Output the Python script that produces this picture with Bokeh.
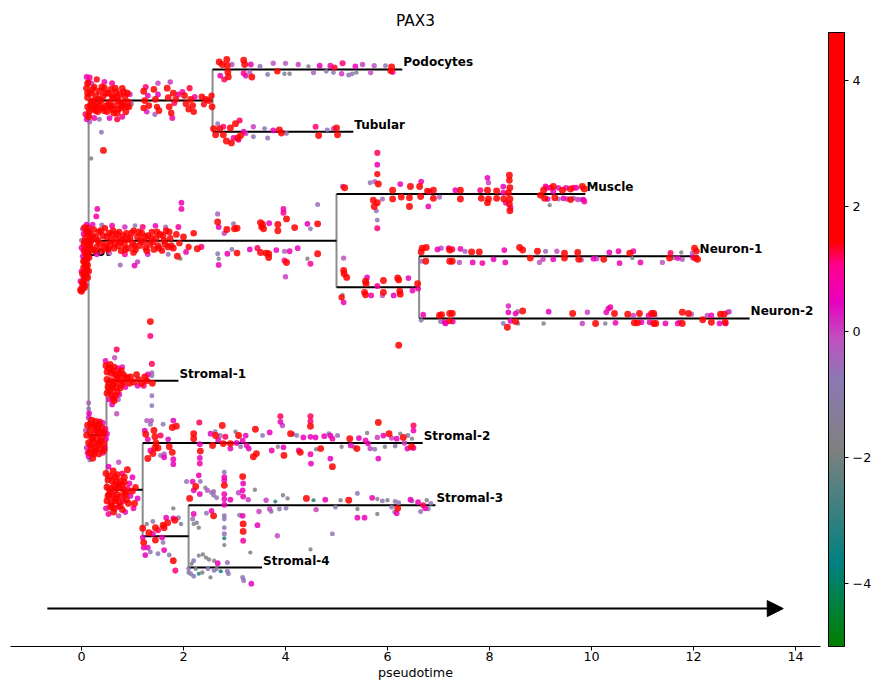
import numpy as np
from bokeh.plotting import figure
from bokeh.models import (ColumnDataSource, LinearColorMapper, ColorBar, FixedTicker,
                          Range1d, Arrow, NormalHead)
from bokeh.core.properties import value
from bokeh.embed import file_html
from bokeh.resources import INLINE

GENE = "PAX3"

# ---- trajectory tree: segment -> parent, and pseudotime where each segment ends
SEG_PARENT = {
    "root": None,
    "top": "root", "podocytes": "top", "tubular": "top",
    "middle": "root", "muscle": "middle", "lowmid": "middle",
    "neuron1": "lowmid", "neuron2": "lowmid",
    "s1234": "root", "stromal1": "s1234", "s234": "s1234",
    "stromal2": "s234", "s34": "s234", "stromal3": "s34", "stromal4": "s34",
}
SEG_END = {
    "root": 0.14,
    "top": 2.57, "podocytes": 6.29, "tubular": 5.33,
    "middle": 5.00, "muscle": 9.88, "lowmid": 6.62,
    "neuron1": 12.10, "neuron2": 13.10,
    "s1234": 0.49, "stromal1": 1.90, "s234": 1.20,
    "stromal2": 6.69, "s34": 2.10, "stromal3": 6.94, "stromal4": 3.54,
}
ROOT_START = 0.0
LEAF_ORDER = ["podocytes", "tubular", "muscle", "neuron1", "neuron2",
              "stromal1", "stromal2", "stromal3", "stromal4"]
LEAF_LABELS = {
    "podocytes": "Podocytes", "tubular": "Tubular", "muscle": "Muscle",
    "neuron1": "Neuron-1", "neuron2": "Neuron-2", "stromal1": "Stromal-1",
    "stromal2": "Stromal-2", "stromal3": "Stromal-3", "stromal4": "Stromal-4",
}
ROOT_LABEL = "root"

# ---- cells: (pseudotime, offset from the segment lane, PAX3 expression)
CELLS_ROOT = [
    (0.10, -0.55, 0.6), (0.14, -0.50, 1.3), (0.02, -0.48, -0.3), (0.12, -0.42, 2.6), (0.04, -0.40, 0.5),
    (0.16, -0.36, 2.2), (0.08, -0.34, 2.9), (0.00, -0.30, -0.6), (0.12, -0.28, 3.1), (0.05, -0.24, 2.4),
    (0.15, -0.22, 2.7), (0.00, -0.18, 0.6), (0.10, -0.16, 3.3), (0.04, -0.12, 1.0), (0.13, -0.10, 2.5),
    (0.08, -0.06, 2.8), (0.02, -0.04, 0.3), (0.15, -0.02, 2.2), (0.10, 0.02, 3.0), (0.06, 0.06, 2.6),
    (0.12, 0.10, 2.4), (0.04, 0.14, 1.9), (0.10, 0.18, 2.8), (0.06, 0.22, 2.3), (0.00, 0.20, 0.6),
    (0.08, 0.26, 2.6), (0.03, 0.30, -0.4), (0.06, 0.34, 2.1), (-0.02, 0.36, 0.8), (0.04, 0.40, 2.5),
    (0.00, 0.44, 0.0), (0.02, 0.48, 2.7), (-0.02, 0.50, 2.2), (0.08, 0.42, 1.1), (0.14, -0.46, -0.5),
    (0.18, -0.30, 1.5),
    (0.06, -0.50, 2.5), (0.10, -0.44, 2.8), (0.06, -0.28, 2.6), (0.10, -0.26, 2.9), (0.06, -0.14, 2.7),
    (0.12, -0.04, 2.6), (0.04, 0.04, 2.8), (0.08, 0.12, 2.5), (0.02, 0.24, 2.7), (0.06, 0.28, 2.9),
    (0.02, 0.38, 2.6), (0.06, 0.46, 2.4), (0.00, 0.52, 2.8), (0.12, 0.30, 2.5), (0.14, 0.20, 2.6),
]
CELLS_TOP = [
    (0.10, -0.20, 2.6), (0.12, -0.05, 3.1), (0.12, 0.10, 2.2), (0.15, 0.18, 1.9), (0.18, -0.12, 3.4),
    (0.20, 0.02, 2.8), (0.22, 0.14, 2.4), (0.25, -0.22, 1.7), (0.28, -0.08, 3.0), (0.30, 0.06, 2.5),
    (0.32, 0.18, 2.1), (0.35, -0.15, 2.9), (0.38, 0.00, 3.6), (0.40, 0.12, 2.3), (0.42, -0.06, 2.7),
    (0.45, -0.20, 2.0), (0.48, 0.08, 3.2), (0.50, 0.18, 1.8), (0.52, -0.12, 2.6), (0.55, 0.02, 3.0),
    (0.58, -0.18, 2.2), (0.60, 0.14, 2.8), (0.62, -0.04, 3.3), (0.65, 0.08, 2.5), (0.68, -0.14, 2.1),
    (0.70, 0.20, 2.4), (0.72, 0.00, 3.1), (0.75, -0.10, 2.7), (0.78, 0.12, 2.0), (0.80, -0.20, 1.9),
    (0.82, 0.04, 2.9), (0.85, -0.06, 2.3), (0.88, 0.10, 2.6), (0.90, -0.12, 2.2), (0.92, 0.02, 1.8),
    (0.12, -0.28, 2.4), (0.14, 0.26, 2.7), (0.22, -0.18, 2.9), (0.26, 0.10, 3.0), (0.33, -0.02, 2.6),
    (0.44, 0.16, 2.8), (0.47, -0.12, 2.5), (0.57, 0.10, 2.9), (0.63, 0.20, 2.2), (0.66, -0.20, 2.7),
    (0.70, -0.06, 2.4), (0.77, 0.04, 2.8), (0.83, -0.14, 2.6), (0.87, 0.18, 2.3), (0.93, 0.10, 2.5),
    (0.18, 0.08, 2.6), (0.24, 0.00, 2.9), (0.36, 0.08, 2.7), (0.53, 0.08, 2.4), (0.60, -0.08, 2.6),
    (0.40, -0.22, 2.3), (0.12, -0.12, 2.8), (0.28, 0.16, 2.5), (0.72, 0.14, 2.9), (0.80, 0.08, 2.7),
    (0.10, -0.38, 0.6), (0.14, -0.30, 1.0), (0.10, 0.30, 0.4), (0.16, 0.34, -0.4), (0.08, 0.22, 1.2),
    (0.25, 0.28, 0.9), (0.45, -0.30, 0.7), (0.60, -0.28, 1.0), (0.80, 0.26, 0.8), (0.55, 0.28, 0.5),
    (0.30, -0.34, 1.4), (0.95, -0.10, 0.2), (0.98, 0.05, -0.5), (0.35, 0.30, -0.6), (0.20, -0.28, 0.0),
    (0.70, 0.30, 1.3), (0.15, 0.24, -0.8), (0.16, -0.37, 1.0), (0.39, 0.51, -0.7), (0.43, 0.80, 2.6),
    (0.19, 0.93, -1.8),
    (1.22, -0.15, 2.4), (1.24, 0.00, 2.9), (1.22, 0.12, 1.9), (1.30, -0.08, 0.6), (1.32, 0.08, 2.2),
    (1.26, -0.22, 1.1), (1.28, 0.18, 0.3),
    (1.42, -0.18, 2.1), (1.45, -0.02, 2.6), (1.48, 0.10, 1.5), (1.50, -0.10, 0.5), (1.52, 0.16, 2.3),
    (1.44, 0.22, -0.3), (1.50, -0.28, 0.0),
    (1.68, -0.20, 2.7), (1.70, -0.05, 2.2), (1.72, 0.10, 3.0), (1.76, 0.20, 1.8), (1.80, -0.12, 2.5),
    (1.82, 0.04, 1.2), (1.85, -0.02, 2.0), (1.78, 0.28, 0.9), (1.74, -0.30, 0.1), (1.90, -0.10, 1.0),
    (1.98, -0.14, 0.8), (2.02, -0.08, 2.4), (2.05, 0.05, 2.9), (2.10, 0.14, 1.6), (2.14, -0.02, 2.2),
    (2.18, 0.08, 3.1), (2.22, -0.06, 0.9), (2.12, -0.20, 1.3), (2.20, 0.18, 2.0),
    (2.36, -0.06, 2.2), (2.40, 0.06, 1.4), (2.44, -0.02, 2.6),
    (2.50, 0.00, 2.8), (2.55, -0.08, 1.5), (2.56, 0.10, 2.3),
]
CELLS_PODOCYTES = [
    (2.70, -0.12, 2.6), (2.72, 0.10, 0.7), (2.76, -0.08, 3.0), (2.85, -0.16, 2.8), (2.86, -0.06, 3.4),
    (2.87, 0.04, 2.9), (2.88, 0.12, 2.2), (2.95, -0.08, -0.1), (2.80, 0.16, 1.2), (3.18, -0.15, 2.4),
    (3.20, -0.08, 3.1), (3.18, 0.06, 1.0), (3.22, 0.10, 0.4), (3.34, 0.12, 2.7), (3.32, -0.08, 0.8),
    (3.30, 0.04, -0.4), (3.65, 0.08, -0.8), (3.76, -0.10, -0.2), (3.84, 0.03, 1.8), (3.98, 0.07, -1.6),
    (4.00, -0.10, -0.3), (4.08, 0.07, -1.5), (4.25, -0.08, 0.0), (4.45, -0.05, -1.7), (4.67, -0.06, 0.6),
    (4.80, 0.03, -0.8), (4.88, -0.06, 0.7), (4.96, -0.03, 1.3), (4.94, 0.05, -0.9), (5.10, 0.07, 0.1),
    (5.12, -0.10, 1.1), (5.24, 0.09, -0.6), (5.31, 0.07, -1.0), (5.39, 0.05, -1.4), (5.37, -0.05, 0.5),
    (5.51, -0.08, 0.0), (5.67, 0.05, -0.1), (5.74, -0.06, -0.2), (5.96, -0.06, -0.7), (6.08, -0.04, 2.8),
    (6.10, 0.04, 0.9), (6.06, 0.02, 1.6), (3.50, -0.05, -0.6), (4.55, 0.05, -0.4),
]
CELLS_TUBULAR = [
    (2.63, 0.05, 2.6), (2.71, -0.05, 2.4), (2.78, 0.05, 2.8), (2.92, -0.06, 2.5), (3.02, -0.13, 2.7),
    (3.10, -0.18, 1.2), (3.12, 0.06, 2.6), (3.06, 0.10, 2.9), (2.98, 0.10, 0.6), (3.08, 0.13, 0.7),
    (2.67, -0.13, -0.7), (3.37, -0.08, 0.0), (3.37, 0.08, -0.7), (3.59, -0.05, -0.8), (3.65, 0.10, -0.6),
    (3.76, -0.02, 0.6), (3.88, -0.03, 2.5), (3.92, 0.02, 2.6), (4.02, 0.03, -0.7), (4.59, -0.08, 1.1),
    (4.65, 0.06, 2.6), (4.82, -0.03, -0.7), (4.94, -0.05, 0.0), (5.00, -0.06, 2.5), (5.02, 0.05, 2.6),
    (2.59, -0.05, 2.5), (2.84, 0.15, 2.7), (2.94, 0.18, 2.4), (2.78, -0.08, 1.1), (3.18, 0.00, 0.6),
    (3.22, 0.03, 0.0),
]
CELLS_MIDDLE = [
    (0.15, -0.12, 2.8), (0.18, 0.02, 3.3), (0.20, 0.14, 2.2), (0.24, -0.18, 1.9), (0.28, -0.05, 3.0),
    (0.30, 0.10, 2.6), (0.34, -0.14, 2.4), (0.36, 0.04, 3.5), (0.40, 0.16, 2.0), (0.42, -0.08, 2.9),
    (0.46, -0.20, 1.6), (0.48, 0.06, 2.5), (0.52, 0.14, 3.1), (0.54, -0.12, 2.2), (0.58, 0.00, 2.8),
    (0.62, -0.16, 2.1), (0.64, 0.12, 2.6), (0.68, -0.04, 3.2), (0.72, 0.08, 2.3), (0.74, -0.14, 1.8),
    (0.78, 0.16, 2.7), (0.80, -0.02, 3.0), (0.84, 0.06, 2.4), (0.88, -0.12, 2.0), (0.92, 0.12, 2.9),
    (0.95, -0.04, 2.5), (1.00, 0.04, 3.3), (1.02, -0.16, 1.7), (1.06, 0.14, 2.2), (1.10, -0.06, 2.8),
    (1.14, 0.08, 2.1), (1.18, -0.12, 2.6), (1.22, 0.02, 3.0), (1.26, 0.12, 1.9), (1.30, -0.08, 2.4),
    (1.34, 0.06, 2.7), (1.38, -0.14, 1.8), (1.42, 0.14, 2.3), (1.46, -0.04, 2.9), (1.50, 0.08, 2.0),
    (1.54, -0.10, 2.5), (1.58, 0.16, 1.6), (1.62, 0.00, 2.8), (1.66, -0.16, 2.1), (1.70, 0.10, 2.4),
    (1.74, -0.04, 1.9), (1.80, 0.12, 2.6), (1.86, -0.10, 2.2), (1.92, 0.04, 1.7), (2.00, -0.06, 2.3),
    (2.10, 0.10, 1.5), (2.20, -0.12, 2.0),
    (0.16, 0.08, 2.9), (0.22, -0.08, 2.7), (0.26, 0.16, 2.4), (0.32, 0.00, 2.8), (0.38, -0.16, 2.6),
    (0.44, 0.10, 2.9), (0.50, -0.06, 2.7), (0.56, 0.08, 2.5), (0.60, -0.10, 2.9), (0.66, 0.04, 2.6),
    (0.70, -0.10, 2.8), (0.76, 0.02, 2.5), (0.82, -0.08, 2.7), (0.86, 0.14, 2.3), (0.90, -0.02, 2.9),
    (0.98, -0.12, 2.6), (1.04, 0.08, 2.4), (1.12, -0.14, 2.7), (1.16, 0.00, 2.9), (1.24, -0.06, 2.5),
    (1.28, 0.16, 2.6), (1.36, -0.04, 2.8), (1.40, 0.02, 2.4), (1.48, -0.14, 2.6), (1.52, 0.12, 2.8),
    (1.60, -0.08, 2.3), (1.64, 0.06, 2.7), (1.76, 0.08, 2.5), (1.72, -0.14, 2.2),
    (0.22, -0.26, 0.4), (0.40, -0.25, -0.5), (0.60, -0.24, 0.8), (0.85, -0.22, 0.2), (1.05, -0.24, -0.7),
    (1.20, -0.22, 1.1), (1.45, -0.24, 0.5), (1.65, -0.22, -0.4), (1.90, -0.22, 0.9), (0.30, 0.22, 0.6),
    (0.55, 0.20, -0.2), (0.85, 0.22, 1.0), (1.30, 0.22, 0.3), (1.70, 0.22, -0.6), (2.05, 0.18, 0.7),
    (0.31, -0.51, 0.7), (0.29, -0.39, 0.9), (1.96, -0.61, 0.6), (1.96, -0.51, 0.8), (0.76, 0.39, -0.6),
    (1.04, 0.40, 0.6), (1.10, 0.34, 0.0), (1.02, 0.19, 2.2), (1.94, 0.29, -1.8), (1.88, 0.25, 2.4),
    (2.27, 0.13, 2.6), (2.35, 0.10, 1.1),
    (2.67, -0.43, -0.4), (2.67, -0.30, 2.4), (2.69, -0.22, 0.7), (2.98, -0.27, -0.6), (3.00, -0.19, 2.5),
    (3.51, -0.29, 2.7), (3.53, -0.22, 2.0), (2.69, 0.29, -1.7), (2.69, 0.39, 0.6), (2.86, 0.21, 0.6),
    (2.95, 0.14, -0.7), (3.05, 0.20, 2.2), (3.30, 0.14, 0.5), (3.45, 0.12, 1.2), (3.51, 0.19, 2.6),
    (3.62, 0.20, 2.4), (2.67, 0.21, -0.8), (2.85, -0.18, 2.6), (2.80, -0.12, 0.0), (3.05, -0.20, 2.9),
    (3.55, -0.26, 2.8), (3.57, -0.19, 2.6), (3.68, -0.28, 0.6), (3.85, -0.26, 2.5), (3.85, -0.16, 2.7),
    (3.96, -0.51, 0.7), (3.96, -0.45, 1.0), (4.02, -0.35, 2.5), (4.18, -0.21, 2.6), (4.43, -0.27, 0.5),
    (4.49, -0.19, -0.8), (4.63, -0.58, -0.6), (4.63, -0.27, 2.5),
    (3.67, 0.21, 2.7), (3.67, 0.27, 2.5), (3.82, 0.15, 0.6), (3.98, 0.17, -0.4), (3.98, 0.32, 1.0),
    (4.02, 0.35, 2.4), (4.08, 0.17, 0.7), (4.00, 0.58, 0.0), (4.24, 0.12, 0.6), (4.43, 0.29, -1.7),
    (4.49, 0.37, 1.0), (4.63, 0.21, 2.6),
]
CELLS_MUSCLE = [
    (5.12, -0.12, 0.0), (5.16, -0.10, 2.6), (5.80, -0.66, 1.2), (5.80, -0.47, 0.6), (5.80, -0.32, 1.5),
    (5.82, -0.16, 2.6), (5.75, -0.20, -0.3), (5.80, 0.14, 2.4), (5.78, 0.27, -0.6), (5.80, 0.42, -0.7),
    (5.80, 0.55, 1.1), (5.66, -0.18, -0.7), (5.72, 0.10, 2.2), (5.74, 0.20, 2.5), (5.90, 0.08, -0.5),
    (6.10, -0.06, 2.6), (6.10, 0.08, 2.3), (6.25, -0.16, 0.6), (6.27, 0.05, 2.7), (6.45, -0.12, 2.9),
    (6.43, 0.06, 2.4), (6.43, 0.20, 2.6), (6.63, -0.12, 2.8), (6.65, 0.04, 2.5), (6.66, -0.20, 0.6),
    (6.78, -0.05, 1.8), (6.82, -0.04, 1.2), (6.90, -0.06, 2.4), (6.90, 0.07, 2.7), (6.80, 0.20, 0.6),
    (7.02, 0.05, -0.4),
    (7.33, -0.06, 0.6), (7.43, -0.06, 2.4), (7.43, 0.08, 2.6), (7.82, -0.06, 1.1), (7.84, 0.07, 2.6),
    (7.96, -0.26, 0.6), (7.98, -0.18, 0.0), (7.96, -0.06, 2.7), (7.98, 0.08, 2.9), (7.96, 0.14, 2.3),
    (8.14, -0.05, 2.6), (8.14, 0.07, 2.8), (8.27, -0.12, 0.6), (8.27, -0.02, 0.8), (8.28, 0.08, 2.4),
    (8.32, 0.14, 0.5), (8.39, -0.30, 2.6), (8.39, -0.22, 2.2), (8.40, -0.10, 2.9), (8.37, -0.02, 3.2),
    (8.40, 0.08, 2.7), (8.39, 0.16, 2.5), (8.40, 0.27, 2.6), (8.41, 0.22, 1.0),
    (9.06, -0.06, 2.8), (9.08, 0.07, 2.6), (9.12, -0.10, 0.7), (9.14, 0.08, 0.5), (9.18, 0.18, -1.8),
    (9.25, -0.12, 2.5), (9.25, -0.04, 0.7), (9.28, 0.06, 2.3), (9.43, -0.06, 2.6), (9.45, 0.07, 0.6),
    (9.52, 0.08, 0.0), (9.59, -0.08, 2.4), (9.59, 0.09, 2.6), (9.65, 0.07, -0.6), (9.70, -0.10, 0.7),
    (9.73, 0.09, 0.1), (9.82, -0.12, 2.7), (9.86, -0.08, 3.0), (9.84, 0.09, 0.6), (9.86, 0.12, 0.8),
    (9.10, -0.12, 1.0), (9.20, -0.10, 1.1), (9.35, -0.10, 0.4), (9.50, -0.10, 0.6), (9.65, -0.10, 1.0),
    (9.35, 0.08, -0.6), (9.80, 0.09, -0.5), (9.00, 0.02, 2.2),
]
CELLS_LOWMID = [
    (5.14, -0.47, -0.1), (5.14, -0.27, 2.6), (5.15, -0.22, 2.4), (5.20, -0.16, 2.7), (5.10, 0.16, 1.6),
    (5.12, 0.12, -1.7), (5.14, 0.24, 0.6), (5.57, -0.10, 2.8), (5.58, -0.06, 2.5), (5.60, -0.16, 0.6),
    (5.55, 0.08, 2.6), (5.57, 0.12, 2.3), (5.68, 0.13, 0.6), (5.92, -0.11, 2.6), (5.92, 0.08, 2.5),
    (5.90, 0.13, -0.1), (6.20, -0.15, 2.7), (6.22, -0.12, 2.3), (6.12, 0.13, 0.6), (6.24, 0.06, 2.6),
    (6.25, 0.11, 2.4), (6.41, -0.15, 0.6), (6.49, 0.05, 0.7), (6.59, -0.06, 2.5), (6.60, 0.02, 0.8),
    (6.22, 0.93, 2.5), (5.80, -0.02, 1.0),
]
CELLS_NEURON1 = [
    (6.66, -0.07, 2.6), (6.68, -0.13, 2.4), (6.76, -0.14, 2.7), (6.66, 0.08, -0.6), (6.75, 0.08, 2.5),
    (6.98, -0.11, 0.6), (7.05, -0.13, 0.0), (7.20, -0.13, 0.8), (7.22, -0.10, 2.4), (7.27, -0.11, 1.2),
    (7.22, 0.08, 2.6), (7.27, 0.08, 2.4), (7.41, 0.10, -0.1), (7.43, -0.12, 0.6), (7.52, -0.08, -0.3),
    (7.65, -0.07, 2.6), (7.80, -0.07, 2.4), (7.67, 0.10, 0.6), (7.86, 0.11, 0.8), (8.08, 0.05, 0.6),
    (8.29, -0.10, 0.6), (8.31, 0.10, 0.7), (8.59, -0.14, 2.7), (8.65, -0.10, 2.4), (8.80, 0.03, 2.5),
    (8.94, -0.08, 2.6), (8.98, 0.10, -0.2), (9.05, 0.05, 0.0), (9.10, -0.08, -0.5), (9.25, 0.05, 0.6),
    (9.32, -0.08, -0.1), (9.47, -0.05, 2.6), (9.47, 0.03, 2.4), (9.73, -0.06, 2.6), (9.75, 0.05, 2.5),
    (9.80, 0.06, -0.2), (10.04, 0.04, 0.6), (10.10, 0.04, 0.0), (10.24, 0.05, 2.3), (10.35, -0.06, 0.6),
    (10.53, -0.08, 0.7), (10.55, 0.11, 0.6), (10.75, -0.05, 2.4), (10.80, 0.03, -1.7), (10.82, -0.08, 0.8),
    (10.96, 0.10, 0.7), (11.39, 0.10, -0.2), (11.55, -0.05, 1.2), (11.53, 0.03, 2.5), (11.61, 0.03, -1.6),
    (11.69, 0.03, 0.6), (11.76, -0.06, -1.8), (11.78, 0.05, -0.3), (11.98, -0.05, -0.2), (12.02, -0.13, 2.7),
    (12.04, 0.03, 2.6), (12.08, 0.05, 2.5), (11.99, 0.02, 0.7), (12.06, -0.08, 1.5),
]
CELLS_NEURON2 = [
    (6.66, 0.03, -0.8), (6.70, -0.06, 0.7), (7.02, -0.05, 2.6), (7.04, 0.05, -0.6), (7.06, -0.06, 2.4),
    (7.12, 0.06, 0.7), (7.14, 0.08, 0.6), (7.22, -0.08, 2.5), (7.27, -0.08, 2.7), (7.22, 0.04, 1.5),
    (7.28, 0.05, 0.6), (8.37, -0.20, 0.2), (8.37, -0.10, 0.6), (8.41, 0.04, 0.6), (8.27, 0.08, -0.8),
    (8.35, 0.14, 2.6), (8.51, -0.08, 0.6), (8.55, -0.11, -0.6), (8.65, -0.12, 2.6), (8.51, 0.05, 2.5),
    (8.56, 0.08, -1.6), (9.06, 0.08, -1.6), (9.16, -0.11, 0.6), (9.63, -0.08, 2.5), (9.82, 0.08, 0.0),
    (9.92, -0.10, 0.0), (10.08, 0.08, 2.5), (10.27, 0.08, -1.5), (10.29, -0.10, 0.6), (10.33, -0.16, 0.7),
    (10.37, -0.18, 0.8), (10.45, -0.08, 2.5), (10.47, 0.07, 0.7), (10.71, -0.07, 2.5), (10.82, -0.05, 0.0),
    (10.84, 0.07, 2.5), (10.90, 0.07, 2.6), (10.94, -0.08, 2.4), (10.98, 0.06, 0.6), (11.12, -0.05, 0.7),
    (11.18, -0.08, 2.4), (11.22, -0.08, 2.6), (11.24, -0.05, -0.1), (11.14, 0.06, 0.6), (11.22, 0.08, 2.5),
    (11.26, 0.08, 2.6), (11.45, 0.08, 0.6), (11.69, 0.08, 0.7), (11.78, 0.08, 2.5), (11.78, -0.10, 2.6),
    (11.90, -0.08, 2.4), (11.96, -0.07, -0.2), (11.73, 0.05, 0.0), (12.18, 0.02, 2.5), (12.27, -0.05, -0.1),
    (12.35, -0.05, 0.7), (12.35, 0.06, 2.4), (12.53, -0.07, 2.6), (12.51, 0.08, 0.6), (12.60, -0.07, 2.4),
    (12.62, 0.06, 2.5), (12.63, 0.08, 0.7), (12.67, -0.10, 0.0), (12.70, -0.11, 0.0),
]
CELLS_S1234 = [
    (0.14, -0.52, -0.5), (0.14, -0.42, -0.8), (0.15, -0.35, 0.6), (0.14, -0.28, 0.2), (0.20, -0.24, 2.4),
    (0.28, -0.22, 2.8), (0.36, -0.22, 1.2), (0.42, -0.20, 0.4), (0.12, -0.16, 2.6), (0.22, -0.14, 3.1),
    (0.32, -0.12, 2.5), (0.40, -0.12, 2.9), (0.47, -0.10, 1.0), (0.16, -0.06, 2.9), (0.26, -0.04, 3.4),
    (0.36, -0.02, 2.7), (0.44, -0.04, 2.2), (0.10, 0.00, 2.3), (0.20, 0.04, 2.8), (0.30, 0.06, 3.2),
    (0.40, 0.04, 2.4), (0.48, 0.06, 0.8), (0.14, 0.12, 2.5), (0.24, 0.14, 2.9), (0.34, 0.12, 2.0),
    (0.44, 0.14, 2.6), (0.18, 0.22, 1.5), (0.28, 0.22, 2.4), (0.38, 0.22, 2.7), (0.46, 0.20, 0.6),
    (0.12, 0.28, 0.9), (0.24, 0.30, 2.1), (0.34, 0.30, 2.6), (0.42, 0.28, 1.0), (0.14, 0.34, 0.5),
    (0.16, 0.40, -0.9), (0.22, 0.37, 2.5), (0.10, 0.20, 0.2), (0.50, -0.02, 0.6), (0.08, -0.08, -0.3),
    (0.18, -0.18, 2.7), (0.26, -0.16, 2.9), (0.34, -0.18, 2.6), (0.40, -0.04, 2.8), (0.22, 0.06, 2.7),
    (0.32, 0.16, 2.9), (0.18, 0.16, 2.6), (0.26, 0.26, 2.8), (0.38, 0.10, 2.5), (0.30, -0.08, 2.6),
    (0.44, 0.24, 2.7), (0.16, 0.28, 2.6),
]
CELLS_STROMAL1 = [
    (0.69, -0.50, 1.2), (0.65, -0.37, -0.1), (0.48, -0.24, 2.6), (0.56, -0.26, 2.9), (0.64, -0.22, 2.2),
    (0.72, -0.20, 1.0), (0.50, -0.14, 3.1), (0.58, -0.12, 2.5), (0.66, -0.10, 3.3), (0.74, -0.12, 2.7),
    (0.82, -0.10, 2.0), (0.50, -0.02, 2.4), (0.58, 0.00, 3.0), (0.66, 0.02, 2.6), (0.74, -0.02, 3.2),
    (0.82, 0.02, 2.3), (0.90, -0.04, 2.8), (0.52, 0.10, 2.9), (0.60, 0.12, 2.2), (0.68, 0.10, 2.7),
    (0.76, 0.12, 1.8), (0.86, 0.10, 0.7), (0.50, 0.20, 2.5), (0.58, 0.22, 1.6), (0.66, 0.24, 2.8),
    (0.74, 0.22, 0.5), (0.54, 0.30, 0.8), (0.64, 0.32, 2.3), (0.72, 0.30, -0.3), (0.60, 0.38, 0.6),
    (0.47, -0.32, 0.4), (0.80, -0.22, 0.3),
    (0.54, -0.20, 2.8), (0.62, -0.16, 2.6), (0.70, -0.06, 2.9), (0.78, 0.06, 2.6), (0.54, 0.04, 2.7),
    (0.62, 0.06, 2.9), (0.70, 0.18, 2.5), (0.56, 0.16, 2.6), (0.86, -0.06, 2.4), (0.78, -0.16, 2.7),
    (0.62, 0.28, 2.4), (0.94, 0.04, 2.6),
    (0.96, -0.06, 2.5), (1.02, 0.02, 2.8), (1.08, -0.10, 2.3), (1.12, -0.02, 2.0), (1.18, 0.04, 2.6),
    (1.24, -0.06, 2.4), (1.28, 0.00, 2.7), (1.30, -0.10, 0.7), (1.10, 0.08, 0.6), (1.22, 0.08, 1.1),
    (1.38, -0.27, 1.2), (1.38, -0.13, -0.6), (1.38, -0.08, -0.7), (1.39, 0.04, 2.6), (1.38, 0.24, -0.7),
    (1.38, 0.40, -0.8), (1.37, 0.64, -0.2), (0.69, 0.53, -0.1), (1.35, -0.95, 2.6), (1.35, -0.72, 1.1),
]
CELLS_S234 = [
    (0.73, -0.44, -0.1), (0.53, -0.37, 0.6), (0.90, -0.32, 2.5), (0.62, -0.30, 2.8), (0.48, -0.26, 2.4),
    (0.70, -0.24, 3.1), (0.80, -0.26, 1.1), (1.00, -0.20, 0.6), (0.52, -0.16, 3.0), (0.60, -0.14, 2.6),
    (0.68, -0.12, 3.4), (0.76, -0.14, 2.8), (0.84, -0.12, 2.2), (0.94, -0.10, 0.8), (0.50, -0.04, 2.7),
    (0.58, -0.02, 3.2), (0.66, 0.00, 2.5), (0.74, -0.04, 3.0), (0.82, 0.00, 2.4), (0.90, -0.02, 1.2),
    (1.00, 0.02, 2.2), (1.06, -0.04, 1.5), (0.54, 0.08, 2.9), (0.62, 0.10, 2.4), (0.70, 0.08, 3.3),
    (0.78, 0.10, 2.6), (0.86, 0.08, 2.0), (0.96, 0.10, 0.6), (0.50, 0.18, 2.5), (0.58, 0.20, 3.0),
    (0.66, 0.18, 2.2), (0.74, 0.20, 2.8), (0.82, 0.18, 1.0), (0.92, 0.22, 2.6), (1.04, 0.22, 2.4),
    (0.56, 0.28, 1.9), (0.64, 0.30, 2.6), (0.72, 0.28, 0.5), (0.80, 0.32, 2.3), (0.48, 0.30, 0.7),
    (0.53, 0.39, 1.0), (0.73, 0.42, -0.1), (0.63, 0.36, 2.5), (0.86, 0.36, 0.4), (1.02, 0.30, 0.8),
    (1.10, 0.14, 0.5),
    (0.56, -0.22, 2.7), (0.66, -0.20, 2.9), (0.72, -0.08, 2.6), (0.64, -0.06, 2.8), (0.56, 0.04, 2.6),
    (0.80, -0.08, 2.7), (0.88, 0.04, 2.5), (0.68, 0.14, 2.9), (0.60, 0.26, 2.6), (0.76, 0.26, 2.7),
    (0.88, 0.16, 2.4), (0.52, 0.10, 2.8), (0.84, -0.20, 2.5),
]
CELLS_STROMAL2 = [
    (1.28, -0.36, -0.3), (1.24, -0.20, 0.6), (1.26, -0.14, 2.5), (1.30, -0.06, 0.6), (1.42, -0.20, 2.6),
    (1.44, -0.10, 2.8), (1.46, 0.00, 2.4), (1.44, 0.08, 2.7), (1.50, 0.08, 2.5), (1.40, 0.17, 2.6),
    (1.30, 0.25, 2.5), (1.55, -0.12, 1.2), (1.35, 0.12, 0.7), (1.62, 0.23, 0.6), (1.62, 0.18, -0.1),
    (1.78, -0.25, 2.6), (1.86, -0.27, 2.4), (1.78, 0.15, 2.5), (1.80, 0.26, 0.7), (1.80, 0.34, 0.5),
    (1.80, -0.36, 0.6), (1.70, -0.06, 0.4), (1.72, 0.06, 2.3), (1.55, 0.20, -0.7), (1.35, -0.30, -0.6),
    (1.60, -0.30, -0.8),
    (2.20, -0.15, 2.6), (2.20, -0.07, 2.4), (2.31, -0.33, 1.2), (2.32, 0.02, 0.7), (2.33, 0.13, 2.5),
    (2.32, 0.24, 0.6), (2.32, 0.33, 0.8), (2.53, -0.15, 0.6), (2.57, 0.04, 2.5), (2.63, -0.12, 2.6),
    (2.68, -0.05, 0.6), (2.76, -0.28, 2.6), (2.72, -0.12, -0.6), (2.78, 0.01, 2.4), (2.82, -0.10, 1.2),
    (2.92, 0.01, 2.5), (2.92, 0.09, 0.6), (3.08, -0.12, 2.6), (3.04, 0.00, 0.6), (3.12, 0.06, -0.7),
    (3.16, -0.04, 0.6), (3.24, 0.04, 0.7), (3.28, 0.09, 0.5), (3.22, -0.12, 0.6), (3.41, -0.22, 2.6),
    (3.37, 0.22, 2.5), (3.43, 0.17, 2.3), (3.69, -0.17, 0.6), (3.73, 0.12, 0.7), (3.90, -0.43, 1.2),
    (3.90, -0.34, 0.6), (3.94, -0.28, 0.0), (3.96, 0.07, 0.6), (3.97, 0.20, 2.4), (4.10, -0.15, 2.6),
    (4.22, -0.12, -0.7), (4.26, 0.12, 0.6), (4.29, 0.15, 2.5), (4.35, -0.09, 0.6), (4.49, -0.43, 1.2),
    (4.49, -0.35, 1.1), (4.49, -0.27, 2.5), (4.49, -0.10, 0.6), (4.49, 0.18, 0.7), (4.50, 0.33, 0.6),
    (4.59, -0.09, 0.5), (4.69, 0.09, 2.5), (4.76, -0.11, 0.6), (4.88, -0.12, 0.6), (4.92, -0.07, 0.7),
    (4.88, 0.25, 0.6), (4.92, 0.38, 2.6), (5.02, -0.12, -0.6), (5.26, -0.07, 2.5), (5.28, 0.04, 0.6),
    (5.40, 0.09, 2.4), (5.44, -0.08, 0.6), (5.57, -0.04, 0.7), (5.62, 0.01, 0.6), (5.66, 0.09, 0.0),
    (5.82, -0.33, 2.6), (5.80, -0.09, 0.0), (5.82, 0.25, 0.6), (5.92, -0.12, 0.6), (6.03, -0.15, 2.5),
    (6.08, -0.08, 0.0), (6.18, -0.07, 0.6), (6.31, -0.09, 2.5), (6.33, 0.00, 0.0), (6.39, 0.09, 0.6),
    (6.51, -0.28, 1.2), (6.51, -0.20, 0.6), (6.48, -0.07, -1.6), (6.47, 0.06, 2.6), (6.51, 0.08, 0.6),
    (2.62, -0.18, -0.8), (3.02, -0.18, -1.5), (3.55, -0.12, -0.7), (3.85, 0.06, -1.6), (4.15, -0.14, -0.7),
    (4.60, 0.10, -1.6), (4.85, -0.15, -0.8), (5.10, 0.06, -1.7), (5.35, 0.07, -0.7), (5.60, -0.16, -1.6),
    (5.75, 0.10, -0.8), (5.95, 0.06, -1.7), (6.15, 0.05, -0.8), (6.25, -0.15, -1.6), (6.40, -0.12, -0.7),
]
CELLS_S34 = [
    (1.20, -0.13, 2.5), (1.20, 0.02, 0.6), (1.22, 0.10, 2.6), (1.22, 0.18, 0.6), (1.28, -0.20, -1.7),
    (1.32, -0.06, 2.6), (1.30, 0.18, 0.6), (1.45, -0.14, 2.5), (1.45, 0.06, 2.6), (1.40, -0.04, 0.6),
    (1.50, -0.10, 1.2), (1.60, -0.18, 2.6), (1.62, -0.14, 2.5), (1.66, -0.30, 0.6), (1.69, -0.22, 2.4),
    (1.58, 0.02, 0.6), (1.60, 0.10, -0.8), (1.62, 0.22, 0.6), (1.80, -0.29, 0.6), (1.83, -0.26, 2.6),
    (1.80, 0.39, 2.5), (1.84, 0.55, 1.1), (1.80, -0.45, -1.6), (1.90, -0.30, -0.6), (1.35, 0.25, -0.8),
    (1.50, 0.28, -0.7), (1.72, 0.30, -0.8), (1.25, 0.30, 0.5), (1.40, -0.24, -0.7), (1.95, -0.20, -1.5),
]
CELLS_STROMAL3 = [
    (2.12, -0.11, 2.6), (2.20, -0.24, 0.6), (2.24, -0.30, 2.5), (2.30, -0.48, 0.7), (2.18, -0.38, 0.6),
    (2.06, -0.38, -0.6), (2.33, -0.38, -0.7), (2.43, -0.28, -1.6), (2.47, -0.24, -0.2), (2.32, -0.18, 0.6),
    (2.55, -0.20, -0.7), (2.59, -0.22, -0.6), (2.59, -0.16, -0.8), (2.65, -0.12, -0.7), (2.20, 0.14, 0.6),
    (2.18, 0.22, -0.6), (2.20, 0.30, -1.7), (2.26, 0.28, -1.6), (2.30, 0.36, -1.7), (2.45, 0.13, -0.7),
    (2.59, 0.17, 2.5), (2.55, 0.09, 0.6),
    (2.80, -0.53, -0.7), (2.80, -0.45, 0.6), (2.80, -0.40, 0.6), (2.80, -0.32, 2.6), (2.80, -0.18, 0.7),
    (2.80, -0.10, 0.6), (2.80, -0.01, 0.6), (2.80, 0.17, -0.7), (2.80, 0.22, -0.8), (2.80, 0.36, -0.8),
    (2.80, 0.46, -0.6), (2.80, 0.53, -3.3), (2.80, 0.64, -1.8),
    (3.16, -0.46, 2.6), (3.17, -0.35, 0.6), (3.16, -0.24, 0.6), (3.17, -0.14, 0.7), (3.16, 0.17, 0.6),
    (3.17, 0.30, 2.5), (3.17, 0.42, 2.4), (3.17, 0.57, 0.8), (3.10, 0.16, -0.7),
    (2.92, -0.09, 0.6), (3.08, -0.20, 0.0), (3.27, -0.09, 0.0), (3.40, -0.25, -1.7), (3.48, 0.10, 0.0),
    (3.45, 0.32, 0.6), (3.31, 0.76, -1.8), (3.62, -0.08, 0.0), (3.69, 0.06, 0.0), (3.72, 0.10, -0.8),
    (3.84, 0.49, -0.1), (3.95, -0.16, -1.7), (4.04, -0.11, -1.7), (3.88, 0.06, -0.7), (4.01, 0.05, -0.8),
    (3.80, -0.06, -3.0),
    (4.41, -0.11, 2.5), (4.55, -0.08, -3.2), (4.60, 0.07, 0.0), (4.49, 0.71, -1.8), (4.78, -0.09, 0.6),
    (4.92, 0.46, -0.7), (4.98, 0.03, -0.8), (5.08, -0.08, -1.7), (5.24, -0.08, 2.5), (5.41, -0.19, -0.7),
    (5.41, 0.06, -1.7), (5.41, 0.20, 0.6), (5.55, 0.20, 0.6), (5.70, -0.12, 0.6), (5.80, -0.10, -1.7),
    (5.90, -0.07, -0.8), (5.80, 0.14, -1.7), (6.00, -0.08, -1.7), (6.15, -0.06, -0.8), (6.22, -0.04, -0.7),
    (6.20, 0.05, 2.5), (6.18, 0.13, 0.6), (6.08, 0.03, -0.8), (6.14, 0.11, -0.7), (6.45, -0.09, 0.6),
    (6.48, -0.07, -0.7), (6.60, -0.05, 0.6), (6.70, 0.00, 1.2), (6.74, 0.05, 0.6), (6.77, -0.08, -1.7),
    (6.80, 0.06, -0.8), (6.65, 0.10, -0.6), (6.85, -0.03, -0.7),
]
CELLS_STROMAL4 = [
    (2.10, 0.02, -0.8), (2.10, 0.08, -1.7), (2.14, 0.10, -0.8), (2.16, -0.06, -1.8), (2.20, -0.11, -0.7),
    (2.30, -0.19, -1.8), (2.38, -0.21, -1.7), (2.44, -0.16, -1.8), (2.50, -0.13, -1.6), (2.60, -0.11, -1.7),
    (2.67, -0.07, 0.6), (2.86, -0.08, -0.6), (2.37, 0.08, -1.7), (2.53, 0.16, -1.8), (2.60, 0.05, -0.7),
    (2.65, 0.02, -1.7), (2.86, 0.06, -0.7), (2.88, 0.10, -0.8), (3.16, 0.16, -0.7), (3.18, 0.21, -0.6),
    (3.33, 0.26, 0.6), (2.24, 0.02, -1.6), (2.30, 0.10, -3.2), (2.73, 0.06, -3.4), (2.20, 0.14, -0.8),
    (2.48, 0.02, -0.7),
]
CELLS_BY_SEGMENT = {
    "root": CELLS_ROOT, "top": CELLS_TOP, "podocytes": CELLS_PODOCYTES, "tubular": CELLS_TUBULAR,
    "middle": CELLS_MIDDLE, "muscle": CELLS_MUSCLE, "lowmid": CELLS_LOWMID,
    "neuron1": CELLS_NEURON1, "neuron2": CELLS_NEURON2, "s1234": CELLS_S1234,
    "stromal1": CELLS_STROMAL1, "s234": CELLS_S234, "stromal2": CELLS_STROMAL2,
    "s34": CELLS_S34, "stromal3": CELLS_STROMAL3, "stromal4": CELLS_STROMAL4,
}

# colour scale of the expression values
VMIN, VMAX = -5.0, 4.76
CMAP_STOPS = [-5.0, -3.7, -1.85, -0.75, -0.1, 0.48, 1.06, 1.45, 4.76]
CMAP_COLORS = ["#008000", "#008080", "#808080", "#8c78b4", "#c050c0",
               "#e600c0", "#ff0090", "#ff0000", "#ff0000"]
CBAR_TICKS = [-4, -2, 0, 2, 4]


def build_palette(n=256):
    rgb = np.array([[int(c[i:i + 2], 16) for i in (1, 3, 5)] for c in CMAP_COLORS], float)
    vals = np.linspace(VMIN, VMAX, n)
    out = []
    for v in vals:
        r, g, b = (np.interp(v, CMAP_STOPS, rgb[:, k]) for k in range(3))
        out.append("#%02x%02x%02x" % (int(round(r)), int(round(g)), int(round(b))))
    return out


# ---- dendrogram layout: leaves stacked, inner nodes centred on their children
children = {}
for seg, parent in SEG_PARENT.items():
    if parent is not None:
        children.setdefault(parent, []).append(seg)

lane = {leaf: float(i) for i, leaf in enumerate(LEAF_ORDER)}


def get_lane(seg):
    if seg not in lane:
        lane[seg] = float(np.mean([get_lane(c) for c in children[seg]]))
    return lane[seg]


for seg in SEG_PARENT:
    get_lane(seg)


def seg_start(seg):
    parent = SEG_PARENT[seg]
    return ROOT_START if parent is None else SEG_END[parent]


FONT = "DejaVu Sans"
p = figure(frame_width=810, frame_height=614,
           min_border_left=10, min_border_right=63, min_border_top=32, min_border_bottom=44,
           x_range=Range1d(-1.392, 14.49), y_range=Range1d(9.269, -0.594),
           y_axis_location=None, toolbar_location=None, output_backend="svg",
           background_fill_color="white", border_fill_color="white")
p.outline_line_color = None
p.grid.visible = False

p.title.text = GENE
p.title.align = "center"
p.title.text_font = FONT
p.title.text_font_size = "15.3px"
p.title.text_font_style = "normal"
p.title.text_color = "black"
p.title.standoff = 6

ax = p.xaxis[0]
ax.ticker = FixedTicker(ticks=[0, 2, 4, 6, 8, 10, 12, 14])
ax.axis_label = "pseudotime"
ax.axis_label_text_font = FONT
ax.axis_label_text_font_size = "12.7px"
ax.axis_label_text_font_style = "normal"
ax.axis_label_text_color = "black"
ax.axis_label_standoff = 1
ax.major_label_text_font = FONT
ax.major_label_text_font_size = "12.7px"
ax.major_label_text_color = "black"
ax.major_label_standoff = 1
ax.major_tick_in = 0
ax.major_tick_out = 4
ax.major_tick_line_color = "black"
ax.minor_tick_line_color = None
ax.axis_line_color = "black"
ax.axis_line_width = 1.2

# fork connectors (grey) and segments (black)
fx, fy0, fy1 = [], [], []
for seg, kids in children.items():
    ys = [lane[k] for k in kids]
    fx.append(SEG_END[seg]); fy0.append(min(ys)); fy1.append(max(ys))
p.segment(x0=fx, y0=fy0, x1=fx, y1=fy1, line_color="#8c8c8c", line_width=2)

segs = list(SEG_PARENT)
p.segment(x0=[seg_start(s) for s in segs], y0=[lane[s] for s in segs],
          x1=[SEG_END[s] for s in segs], y1=[lane[s] for s in segs],
          line_color="black", line_width=2)

# pseudotime direction arrow
ARROW_FROM, ARROW_TO, ARROW_LANE = -0.67, 13.76, 8.66
p.add_layout(Arrow(end=NormalHead(size=16, fill_color="black", line_color="black"),
                   x_start=ARROW_FROM, y_start=ARROW_LANE, x_end=ARROW_TO, y_end=ARROW_LANE,
                   line_color="black", line_width=2))

# branch names
lab_x = [SEG_END[l] for l in LEAF_ORDER] + [ROOT_START]
lab_y = [lane[l] for l in LEAF_ORDER] + [lane["root"]]
lab_t = [LEAF_LABELS[l] for l in LEAF_ORDER] + [ROOT_LABEL]
p.text(x=lab_x, y=lab_y, text=lab_t, text_font=value(FONT), text_font_size="12px",
       text_font_style="bold", text_color="black", text_baseline="bottom", text_align="left",
       x_offset=1)

# cells, highest expression drawn last
cx, cy, cv = [], [], []
for seg, cells in CELLS_BY_SEGMENT.items():
    for pt, dy, v in cells:
        cx.append(pt); cy.append(lane[seg] + dy); cv.append(v)
order = np.argsort(cv, kind="stable")
cx = np.array(cx)[order]; cy = np.array(cy)[order]; cv = np.array(cv)[order]
sizes = 4.2 + 0.6 * np.clip(cv + 2.0, 0, 4.5)
src = ColumnDataSource(dict(x=cx, y=cy, v=cv, s=sizes))

mapper = LinearColorMapper(palette=build_palette(), low=VMIN, high=VMAX)
p.scatter(x="x", y="y", size="s", source=src, fill_color={"field": "v", "transform": mapper},
          line_color=None, fill_alpha=0.85)

cbar = ColorBar(color_mapper=mapper, ticker=FixedTicker(ticks=CBAR_TICKS),
                major_label_overrides={-4: "\u22124", -2: "\u22122"},
                width=16, height=614, margin=0, padding=0, location=(8, 0),
                major_tick_in=0, major_tick_out=4, major_tick_line_color="black",
                minor_tick_line_color=None,
                major_label_text_font=FONT, major_label_text_font_size="12.7px",
                major_label_text_color="black",
                label_standoff=4, bar_line_color="black", bar_line_width=1,
                border_line_color=None, background_fill_color=None)
p.add_layout(cbar, "right")

open("out.html", "w").write(file_html(p, INLINE))
